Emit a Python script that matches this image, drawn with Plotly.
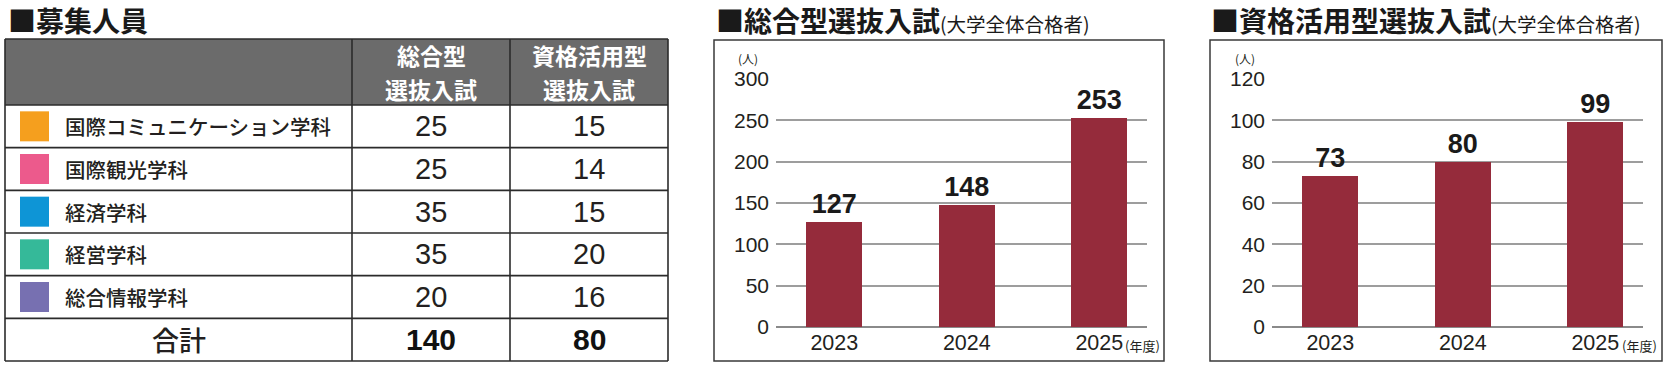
import plotly.graph_objects as go

W, H = 1670, 367

# ---------------- data ----------------
departments = ["国際コミュニケーション学科", "国際観光学科", "経済学科", "経営学科", "総合情報学科"]
dept_colors = ["#F59F1E", "#EC5A8C", "#0E95D6", "#35B999", "#7770B1"]
general_quota = [25, 25, 35, 35, 20]
qualification_quota = [15, 14, 15, 20, 16]
quota_headers = [["総合型", "選抜入試"], ["資格活用型", "選抜入試"]]
total_label = "合計"

years = ["2023", "2024", "2025"]
general_passed = [127, 148, 253]
qualification_passed = [73, 80, 99]

table_title = "■募集人員"
chart1_title = "■総合型選抜入試"
chart2_title = "■資格活用型選抜入試"
chart_subtitle = "(大学全体合格者)"
unit_label = "(人)"
year_unit_label = "(年度)"

# ---------------- styles ----------------
CJK = "Noto Sans CJK JP"
NUM = "Liberation Sans, Arial, Noto Sans CJK JP"
TXT = "#231f20"
BAR = "#952B3B"
LINE = "#2b2b2b"
GRID = "#9d9d9d"


def px(x):
    return x / W


def py(y):
    return 1 - y / H


fig = go.Figure()

# ---------------- bar charts ----------------
for vals, xa, ya in [(general_passed, "x", "y"), (qualification_passed, "x2", "y2")]:
    fig.add_trace(go.Bar(
        x=years, y=vals, xaxis=xa, yaxis=ya, width=0.42,
        marker=dict(color=BAR, line=dict(width=0)),
        text=[str(v) for v in vals], textposition="outside", cliponaxis=False,
        textfont=dict(family=NUM, size=27, color="#1a1a1a", weight="bold"),
        hoverinfo="skip", showlegend=False,
    ))

axis_common_x = dict(type="category", range=[-0.44, 2.36], showgrid=False, showline=False,
                     zeroline=False, ticks="", tickfont=dict(family=NUM, size=21.5, color=TXT),
                     fixedrange=True, automargin=False)
axis_common_y = dict(showgrid=True, gridcolor=GRID, gridwidth=2, zeroline=True,
                     zerolinecolor="#8a8a8a", zerolinewidth=2.5, showline=False, ticks="",
                     tickfont=dict(family=NUM, size=21, color=TXT), ticklabelstandoff=6,
                     fixedrange=True, automargin=False)

fig.update_layout(
    width=W, height=H, margin=dict(l=0, r=0, t=0, b=0, pad=0, autoexpand=False),
    paper_bgcolor="white", plot_bgcolor="white", showlegend=False, bargap=0,
    xaxis=dict(domain=[px(776), px(1147)], anchor="y", **axis_common_x),
    yaxis=dict(domain=[py(327), py(79)], anchor="x", range=[0, 300], dtick=50, **axis_common_y),
    xaxis2=dict(domain=[px(1272), px(1643)], anchor="y2", **axis_common_x),
    yaxis2=dict(domain=[py(327), py(79)], anchor="x2", range=[0, 120], dtick=20, **axis_common_y),
)

shapes = []
annotations = []

# chart frames
for l, r in [(714, 1164), (1210, 1662)]:
    shapes.append(dict(type="rect", xref="paper", yref="paper", x0=px(l), x1=px(r),
                       y0=py(361), y1=py(40), line=dict(color="#3a3a3a", width=1.5),
                       fillcolor="rgba(0,0,0,0)", layer="below"))

# titles
title_font = dict(family=CJK, size=28, color="#1a1a1a", weight="bold")
sub = f"<span style='font-size:19.5px;font-weight:normal'>{chart_subtitle}</span>"
for txt, x in [(table_title, 6), (chart1_title + sub, 714), (chart2_title + sub, 1209)]:
    annotations.append(dict(text=txt, x=px(x), y=py(20), xref="paper", yref="paper",
                            xanchor="left", yanchor="middle", showarrow=False, font=title_font))

# unit labels
for x in [760, 1257]:
    annotations.append(dict(text=unit_label, x=px(x), y=py(58), xref="paper", yref="paper",
                            xanchor="right", yanchor="middle", showarrow=False,
                            font=dict(family=CJK, size=12, color=TXT)))
for x in [1123, 1620]:
    annotations.append(dict(text=year_unit_label, x=px(x), y=py(345), xref="paper", yref="paper",
                            xanchor="left", yanchor="middle", showarrow=False,
                            font=dict(family=CJK, size=13, color=TXT)))

# ---------------- table ----------------
COL_X = [5, 352, 510, 668]
HEAD_T, HEAD_B, TAB_B = 39, 105, 361
n_rows = len(departments) + 1
row_h = (TAB_B - HEAD_B) / n_rows
row_edges = [HEAD_B + i * row_h for i in range(n_rows + 1)]

shapes.append(dict(type="rect", xref="paper", yref="paper", x0=px(COL_X[0]), x1=px(COL_X[-1]),
                   y0=py(HEAD_B), y1=py(HEAD_T), fillcolor="#6b6b6b", line=dict(width=0), layer="below"))
for y in [HEAD_T] + row_edges:
    shapes.append(dict(type="line", xref="paper", yref="paper", x0=px(COL_X[0]), x1=px(COL_X[-1]),
                       y0=py(y), y1=py(y), line=dict(color=LINE, width=1.6)))
for x in COL_X:
    shapes.append(dict(type="line", xref="paper", yref="paper", x0=px(x), x1=px(x),
                       y0=py(HEAD_T), y1=py(TAB_B), line=dict(color=LINE, width=1.6)))

# header text: one annotation per line, spaced so the lines don't collide
head_mid = (HEAD_T + HEAD_B) / 2
head_step = 33.5
for ci, lines in enumerate(quota_headers):
    cx = (COL_X[ci + 1] + COL_X[ci + 2]) / 2
    for li, t in enumerate(lines):
        cy = head_mid + (li - (len(lines) - 1) / 2) * head_step
        annotations.append(dict(text=t, x=px(cx), y=py(cy), xref="paper", yref="paper",
                                xanchor="center", yanchor="middle", showarrow=False,
                                font=dict(family=CJK, size=23, color="white", weight="bold")))

col_centers = [(COL_X[1] + COL_X[2]) / 2, (COL_X[2] + COL_X[3]) / 2]
for i, name in enumerate(departments):
    cy = (row_edges[i] + row_edges[i + 1]) / 2
    shapes.append(dict(type="rect", xref="paper", yref="paper", x0=px(20), x1=px(49),
                       y0=py(cy + 15), y1=py(cy - 15), fillcolor=dept_colors[i], line=dict(width=0)))
    annotations.append(dict(text=name, x=px(63), y=py(cy), xref="paper", yref="paper",
                            xanchor="left", yanchor="middle", showarrow=False,
                            font=dict(family=CJK, size=20.5, color=TXT, weight=500)))
    for cx, v in zip(col_centers, [general_quota[i], qualification_quota[i]]):
        annotations.append(dict(text=str(v), x=px(cx), y=py(cy), xref="paper", yref="paper",
                                xanchor="center", yanchor="middle", showarrow=False,
                                font=dict(family=NUM, size=29, color=TXT)))

cy = (row_edges[-2] + row_edges[-1]) / 2
annotations.append(dict(text=total_label, x=px((COL_X[0] + COL_X[1]) / 2), y=py(cy), xref="paper",
                        yref="paper", xanchor="center", yanchor="middle", showarrow=False,
                        font=dict(family=CJK, size=27, color=TXT, weight=500)))
for cx, v in zip(col_centers, [sum(general_quota), sum(qualification_quota)]):
    annotations.append(dict(text=str(v), x=px(cx), y=py(cy), xref="paper", yref="paper",
                            xanchor="center", yanchor="middle", showarrow=False,
                            font=dict(family=NUM, size=30, color="#111", weight="bold")))

fig.update_layout(shapes=shapes, annotations=annotations)
fig.write_html(
    "out.html",
    config={"displayModeBar": False, "staticPlot": True},
    post_script="document.body.style.margin='0';document.body.style.overflow='hidden';",
)
